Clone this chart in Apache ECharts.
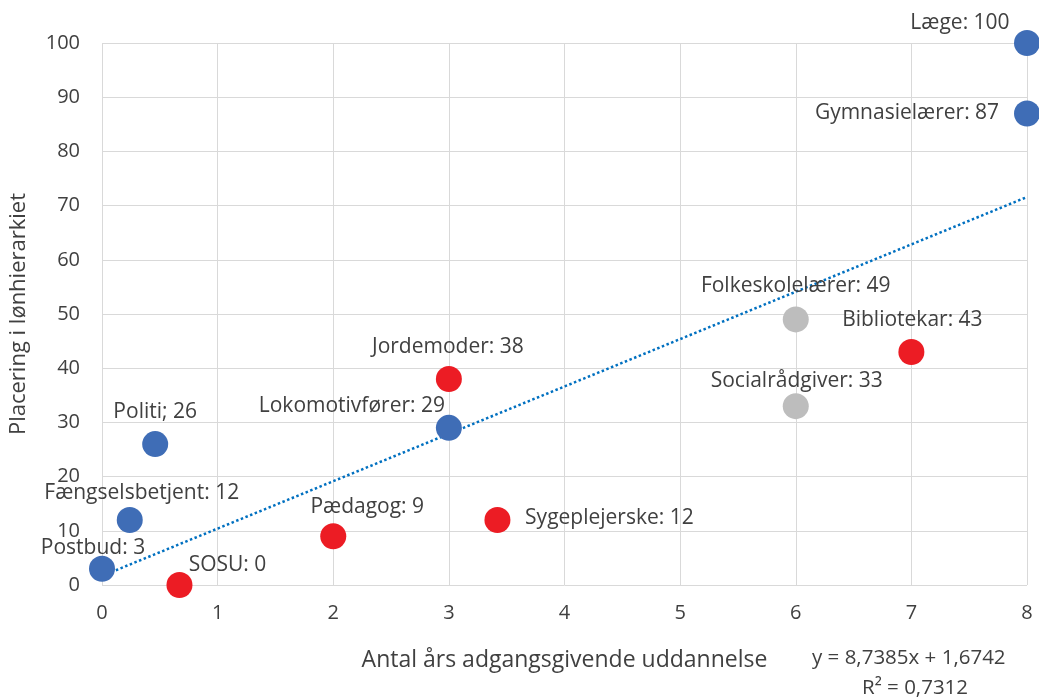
<!DOCTYPE html>
<html><head><meta charset="utf-8">
<script src="https://cdn.jsdelivr.net/npm/echarts@6/dist/echarts.min.js"></script>
<style>html,body{margin:0;padding:0;background:#fff}#c{width:1039px;height:700px}</style>
</head><body><div id="c"></div>
<script>
const names = ["Postbud","Fængselsbetjent","Politi","SOSU","Pædagog","Jordemoder","Lokomotivfører","Sygeplejerske","Folkeskolelærer","Socialrådgiver","Bibliotekar","Gymnasielærer","Læge"];
const xs = [0, 0.24, 0.46, 0.67, 2, 3, 3, 3.42, 6, 6, 7, 8, 8];
const ys = [3, 12, 26, 0, 9, 38, 29, 12, 49, 33, 43, 87, 100];
const sep = [": ",": ","; ",": ",": ",": ",": ",": ",": ",": ",": ",": ",": "];
const groups = ["blue","blue","blue","red","red","red","blue","red","grey","grey","red","blue","blue"];
const slope = 8.7385, intercept = 1.6742, r2 = "0,7312";

const colors = {blue:"#3F6DB6", red:"#EC1C24", grey:"#BDBDBD"};
const offsets = {
  "Postbud":[-9,-21], "Fængselsbetjent":[12,-27], "Politi":[0,-32], "SOSU":[48,-20],
  "Pædagog":[34,-29], "Jordemoder":[-1,-32], "Lokomotivfører":[-97,-22], "Sygeplejerske":[112,-2],
  "Folkeskolelærer":[0,-33], "Socialrådgiver":[1,-25], "Bibliotekar":[1,-32], "Gymnasielærer":[-120,0], "Læge":[-67,-20]
};
const FONT = "'Open Sans', sans-serif";
const data = names.map((n,i)=>({
  value:[xs[i], ys[i]],
  itemStyle:{color:colors[groups[i]], opacity:1},
  label:{show:true, position:'inside', offset:offsets[n], formatter: n + sep[i] + ys[i],
         color:'#404040', fontSize:21, fontFamily:FONT}
}));
const fmt = v => String(v).replace('.',',');
const chart = echarts.init(document.getElementById('c'));
chart.setOption({
  animation:false,
  grid:{left:102, right:12, top:43, bottom:115, containLabel:false, outerBoundsMode:'none'},
  xAxis:{type:'value', min:0, max:8, interval:1,
    axisLine:{show:false}, axisTick:{show:false},
    splitLine:{lineStyle:{color:'#D9D9D9', width:1}},
    axisLabel:{color:'#404040', fontSize:20, fontFamily:FONT, margin:18},
    name:'Antal års adgangsgivende uddannelse', nameLocation:'middle', nameGap:64,
    nameTextStyle:{color:'#404040', fontSize:23, fontFamily:FONT}},
  yAxis:{type:'value', min:0, max:100, interval:10,
    axisLine:{show:false}, axisTick:{show:false},
    splitLine:{lineStyle:{color:'#D9D9D9', width:1}},
    axisLabel:{color:'#404040', fontSize:20, fontFamily:FONT, margin:22},
    name:'Placering i lønhierarkiet', nameLocation:'middle', nameGap:72,
    nameTextStyle:{color:'#404040', fontSize:22, fontFamily:FONT}},
  graphic:[
    {type:'text', left:812, top:648, style:{text:'y = ' + fmt(slope) + 'x + ' + fmt(intercept), fill:'#404040', font:'20.5px ' + FONT}},
    {type:'text', left:862, top:678, style:{text:'R² = ' + r2, fill:'#404040', font:'20.5px ' + FONT}}
  ],
  series:[
    {type:'line', data:[[0, intercept],[8, slope*8+intercept]], symbol:'none',
     lineStyle:{color:'#0070C0', width:2.5, type:[2.5,2.5]}, z:3, silent:true},
    {type:'scatter', data:data, symbolSize:26, z:4}
  ]
});
</script></body></html>
